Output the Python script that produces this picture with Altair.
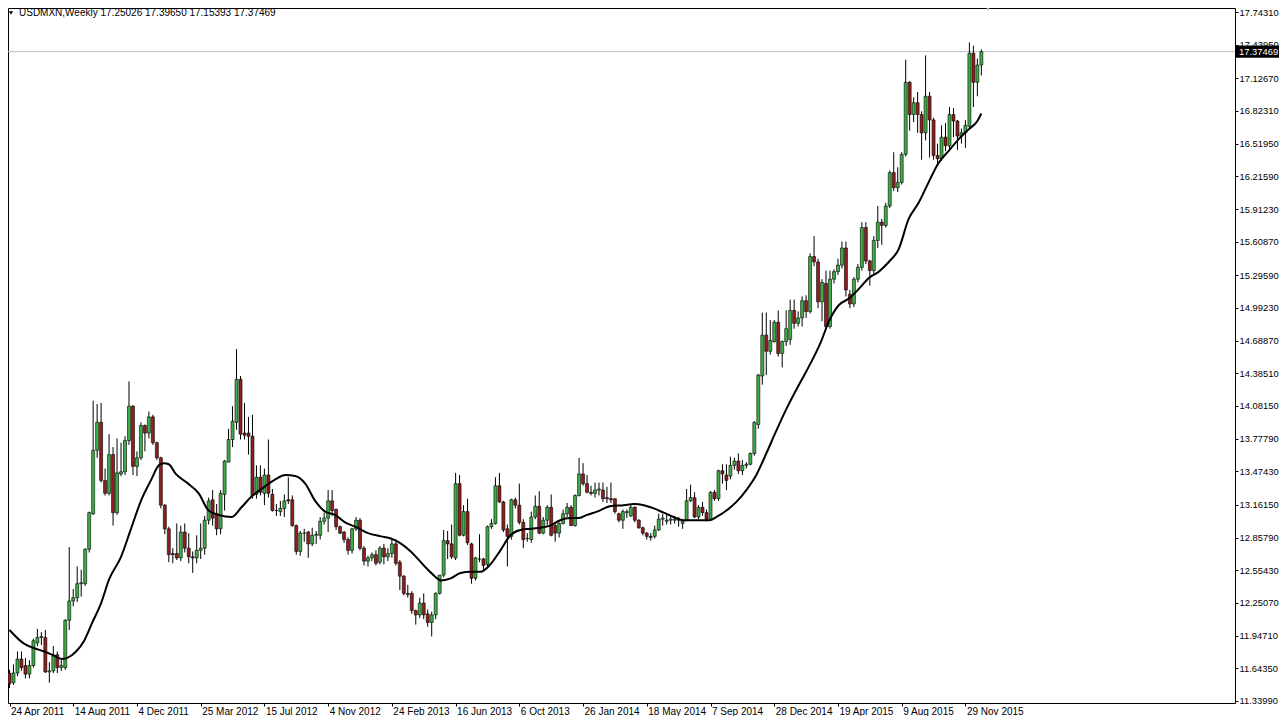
import altair as alt
import pandas as pd

# ---------------- data ----------------
symbol = "USDMXN,Weekly"

opens = [11.60, 11.51, 11.60, 11.73, 11.67, 11.59, 11.67, 11.88, 11.93, 11.93,
         11.61, 11.62, 11.77, 11.65, 11.65, 12.09, 12.27, 12.30, 12.43, 12.43,
         12.75, 13.08, 13.67, 13.93, 13.39, 13.27, 13.63, 13.09, 13.45, 13.47,
         13.76, 14.08, 13.52, 13.60, 13.90, 13.83, 13.98, 13.74, 13.60, 13.16,
         12.94, 12.71, 12.71, 12.67, 12.91, 12.76, 12.68, 12.67, 12.74, 12.76,
         13.02, 13.21, 13.08, 12.94, 13.26, 13.56, 13.77, 13.93, 14.33, 13.83,
         13.83, 13.80, 13.26, 13.42, 13.27, 13.44, 13.26, 13.11, 13.10, 13.13,
         13.21, 13.21, 12.97, 12.73, 12.90, 12.91, 12.80, 12.88, 12.88, 13.01,
         13.04, 13.20, 13.12, 12.96, 12.91, 12.84, 12.74, 12.94, 13.02, 12.76,
         12.64, 12.67, 12.70, 12.63, 12.76, 12.68, 12.71, 12.80, 12.63, 12.50,
         12.34, 12.34, 12.18, 12.14, 12.25, 12.15, 12.07, 12.14, 12.34, 12.51,
         12.83, 12.80, 12.67, 13.36, 12.88, 13.10, 12.80, 12.48, 12.66, 12.66,
         12.61, 12.96, 12.99, 13.34, 13.19, 12.94, 12.87, 13.21, 13.16, 13.00,
         12.85, 12.84, 13.05, 13.15, 12.90, 13.02, 13.14, 12.97, 12.90, 12.99,
         13.08, 13.14, 12.97, 13.25, 13.45, 13.36, 13.28, 13.27, 13.30, 13.30,
         13.23, 13.22, 13.22, 13.08, 13.02, 13.09, 13.06, 13.14, 13.02, 12.95,
         12.90, 12.87, 12.87, 12.93, 13.03, 13.01, 13.02, 13.02, 13.03, 12.99,
         13.02, 13.20, 13.23, 13.05, 13.14, 13.09, 13.03, 13.28, 13.22, 13.48,
         13.44, 13.43, 13.53, 13.57, 13.48, 13.53, 13.54, 13.64, 13.91, 14.36,
         14.74, 14.59, 14.68, 14.86, 14.57, 14.68, 14.70, 14.97, 14.85, 14.90,
         15.06, 14.96, 15.47, 15.42, 15.05, 15.22, 14.82, 15.26, 15.33, 15.39,
         15.55, 15.12, 15.03, 15.26, 15.37, 15.74, 15.43, 15.34, 15.62, 15.79,
         15.76, 15.94, 16.25, 16.11, 16.16, 16.42, 17.09, 16.79, 16.90, 16.79,
         16.62, 16.96, 16.74, 16.41, 16.38, 16.58, 16.50, 16.79, 16.73, 16.59,
         16.62, 16.68, 17.36, 17.09, 17.25026]

highs = [11.63, 11.68, 11.80, 11.80, 11.74, 11.72, 11.92, 12.01, 11.98, 12.00,
         11.70, 11.85, 11.80, 11.72, 12.10, 12.77, 12.38, 12.59, 12.56, 12.76,
         13.10, 14.13, 14.10, 14.11, 13.50, 13.82, 13.70, 13.78, 13.74, 13.80,
         14.31, 14.09, 13.66, 13.93, 13.91, 14.03, 14.00, 13.75, 13.61, 13.17,
         12.96, 12.76, 12.99, 12.97, 12.99, 12.90, 12.73, 12.88, 12.99, 13.06,
         13.23, 13.30, 13.17, 13.30, 13.58, 13.87, 14.08, 14.61, 14.36, 14.11,
         13.98, 14.00, 13.53, 13.53, 13.50, 13.77, 13.31, 13.17, 13.20, 13.26,
         13.42, 13.25, 12.98, 12.92, 12.94, 12.92, 12.95, 12.92, 13.05, 13.09,
         13.30, 13.30, 13.13, 12.97, 12.92, 12.86, 12.95, 13.05, 13.04, 12.78,
         12.69, 12.72, 12.74, 12.78, 12.80, 12.76, 12.85, 12.84, 12.65, 12.51,
         12.42, 12.36, 12.19, 12.30, 12.34, 12.19, 12.17, 12.35, 12.51, 12.93,
         12.92, 12.98, 13.46, 13.44, 13.16, 13.22, 12.81, 12.68, 12.89, 12.67,
         12.97, 13.03, 13.42, 13.46, 13.20, 12.98, 13.22, 13.23, 13.36, 13.03,
         12.90, 13.10, 13.25, 13.29, 13.05, 13.16, 13.26, 13.00, 13.00, 13.12,
         13.18, 13.16, 13.26, 13.60, 13.55, 13.44, 13.34, 13.37, 13.37, 13.37,
         13.33, 13.37, 13.22, 13.09, 13.12, 13.12, 13.16, 13.15, 13.03, 12.96,
         12.91, 12.90, 12.97, 13.08, 13.08, 13.08, 13.06, 13.06, 13.05, 13.02,
         13.31, 13.35, 13.28, 13.16, 13.19, 13.12, 13.29, 13.30, 13.49, 13.54,
         13.54, 13.61, 13.60, 13.64, 13.58, 13.56, 13.65, 13.94, 14.38, 14.95,
         14.95, 14.88, 14.88, 14.97, 14.69, 14.97, 15.07, 15.07, 14.96, 15.10,
         15.11, 15.50, 15.66, 15.45, 15.26, 15.34, 15.34, 15.35, 15.45, 15.61,
         15.61, 15.16, 15.28, 15.40, 15.79, 15.79, 15.44, 15.66, 15.94, 15.82,
         15.97, 16.27, 16.44, 16.30, 16.44, 17.30, 17.10, 16.95, 17.00, 16.82,
         17.34, 17.00, 16.76, 16.52, 16.69, 16.71, 16.86, 16.85, 16.74, 16.66,
         16.74, 17.46, 17.43, 17.31, 17.39650]

lows = [11.46, 11.49, 11.57, 11.62, 11.55, 11.55, 11.65, 11.85, 11.86, 11.60,
        11.51, 11.60, 11.60, 11.62, 11.63, 12.00, 12.22, 12.26, 12.31, 12.41,
        12.72, 13.07, 13.60, 13.37, 13.25, 13.25, 12.97, 13.07, 13.43, 13.44,
        13.72, 13.44, 13.43, 13.58, 13.66, 13.78, 13.72, 13.58, 13.13, 12.89,
        12.63, 12.62, 12.65, 12.64, 12.72, 12.62, 12.53, 12.62, 12.66, 12.70,
        12.98, 12.97, 12.88, 12.89, 13.11, 13.56, 13.70, 13.86, 13.77, 13.77,
        13.63, 13.22, 13.22, 13.25, 13.16, 13.23, 13.10, 13.06, 13.06, 13.05,
        13.17, 12.96, 12.70, 12.69, 12.82, 12.67, 12.78, 12.80, 12.84, 12.98,
        12.91, 13.06, 12.93, 12.89, 12.81, 12.70, 12.71, 12.92, 12.74, 12.60,
        12.59, 12.64, 12.60, 12.61, 12.61, 12.64, 12.67, 12.60, 12.37, 12.32,
        12.30, 12.15, 12.05, 12.11, 12.10, 12.03, 11.94, 12.10, 12.33, 12.49,
        12.66, 12.66, 12.65, 12.87, 12.87, 12.79, 12.43, 12.46, 12.63, 12.55,
        12.59, 12.94, 12.98, 13.18, 12.91, 12.59, 12.84, 13.13, 12.98, 12.76,
        12.82, 12.81, 13.03, 12.89, 12.89, 12.97, 12.87, 12.82, 12.86, 12.98,
        13.05, 12.97, 12.96, 13.24, 13.34, 13.27, 13.25, 13.23, 13.25, 13.19,
        13.18, 13.18, 13.08, 13.00, 12.94, 13.04, 13.05, 13.00, 12.94, 12.88,
        12.84, 12.83, 12.85, 12.92, 12.97, 12.98, 12.98, 12.99, 12.96, 12.94,
        13.01, 13.19, 13.04, 13.03, 13.06, 13.01, 13.02, 13.20, 13.20, 13.36,
        13.30, 13.40, 13.49, 13.45, 13.44, 13.50, 13.53, 13.62, 13.87, 14.28,
        14.37, 14.56, 14.67, 14.54, 14.44, 14.64, 14.65, 14.80, 14.82, 14.82,
        14.90, 14.94, 15.38, 14.99, 14.87, 14.79, 14.80, 15.22, 15.30, 15.36,
        15.10, 14.99, 15.00, 15.23, 15.34, 15.40, 15.20, 15.31, 15.55, 15.58,
        15.74, 15.92, 16.08, 16.07, 16.14, 16.40, 16.64, 16.72, 16.62, 16.37,
        16.55, 16.39, 16.37, 16.33, 16.36, 16.45, 16.46, 16.58, 16.46, 16.52,
        16.48, 16.65, 16.86, 16.96, 17.15393]

closes = [11.50, 11.60, 11.73, 11.65, 11.59, 11.67, 11.90, 11.93, 11.94, 11.61,
          11.62, 11.76, 11.65, 11.67, 12.09, 12.27, 12.30, 12.43, 12.44, 12.75,
          13.09, 13.67, 13.93, 13.39, 13.27, 13.63, 13.09, 13.46, 13.47, 13.76,
          14.08, 13.52, 13.60, 13.90, 13.83, 13.98, 13.74, 13.60, 13.16, 12.94,
          12.70, 12.70, 12.67, 12.91, 12.76, 12.68, 12.67, 12.74, 12.76, 13.02,
          13.20, 13.04, 12.94, 13.27, 13.57, 13.77, 13.94, 14.33, 13.82, 13.81,
          13.80, 13.25, 13.42, 13.28, 13.44, 13.27, 13.11, 13.11, 13.13, 13.20,
          13.20, 12.97, 12.73, 12.90, 12.90, 12.80, 12.88, 12.89, 13.01, 13.04,
          13.20, 13.11, 12.96, 12.90, 12.84, 12.74, 12.94, 13.02, 12.76, 12.64,
          12.67, 12.70, 12.62, 12.76, 12.68, 12.71, 12.80, 12.62, 12.50, 12.34,
          12.33, 12.18, 12.14, 12.25, 12.14, 12.07, 12.14, 12.34, 12.51, 12.83,
          12.80, 12.68, 13.36, 12.88, 13.10, 12.81, 12.48, 12.67, 12.66, 12.60,
          12.96, 12.99, 13.34, 13.19, 12.93, 12.87, 13.21, 13.16, 13.00, 12.84,
          12.85, 13.05, 13.15, 12.90, 13.02, 13.14, 12.88, 12.90, 12.99, 13.08,
          13.14, 12.97, 13.25, 13.45, 13.36, 13.28, 13.27, 13.30, 13.31, 13.22,
          13.22, 13.21, 13.10, 13.02, 13.10, 13.10, 13.14, 13.02, 12.95, 12.90,
          12.87, 12.86, 12.93, 13.03, 13.04, 13.02, 13.03, 13.03, 13.02, 13.01,
          13.20, 13.23, 13.05, 13.14, 13.09, 13.03, 13.28, 13.22, 13.48, 13.45,
          13.39, 13.53, 13.57, 13.48, 13.53, 13.54, 13.64, 13.93, 14.37, 14.74,
          14.59, 14.69, 14.86, 14.57, 14.68, 14.80, 14.97, 14.85, 14.90, 15.06,
          14.96, 15.47, 15.42, 15.05, 15.23, 14.82, 15.26, 15.33, 15.39, 15.55,
          15.16, 15.03, 15.26, 15.37, 15.74, 15.43, 15.34, 15.62, 15.79, 15.76,
          15.94, 16.25, 16.11, 16.16, 16.42, 17.09, 16.79, 16.90, 16.79, 16.62,
          16.96, 16.74, 16.41, 16.38, 16.58, 16.50, 16.79, 16.73, 16.59, 16.62,
          16.69, 17.36, 17.09, 17.25, 17.37469]

# moving average line, read at points along the curve (week index, price)
ma_week = [0, 3.75, 6.25, 8.75, 11.25, 13.3, 14.5, 16.7, 18.75, 20.8, 23, 25, 28,
           30.5, 33, 35.5, 37.5, 38.75, 40, 41.75, 44.5, 47.5, 50, 52.5, 55.75,
           58.25, 60.75, 63.25, 66.75, 69.25, 71.75, 74.25, 76.75, 79.25, 81.75,
           84.25, 86.75, 90, 93.25, 95.75, 98, 100.75, 104.25, 106.75, 108.25,
           110.75, 113.25, 115.75, 118.25, 120.75, 123.25, 125.75, 128.25, 130.75,
           133.25, 135.75, 138.25, 140.75, 143, 145, 147.5, 150.75, 154.25, 156.75,
           159.25, 161.75, 164.25, 166.75, 169.25, 172.5, 175.75, 177.5, 180, 182.5,
           185, 187.5, 190, 192.5, 195, 197.5, 200, 203.75, 205.75, 208.25, 210.75,
           213.25, 215.75, 218.25, 220.75, 223.25, 225.75, 228.25, 230.75, 233.25,
           235.75, 238.25, 240.75, 243, 244]
ma_value = [12.00, 11.87, 11.83, 11.80, 11.76, 11.73, 11.74, 11.80, 11.90, 12.07,
            12.25, 12.47, 12.68, 12.94, 13.20, 13.39, 13.53, 13.55, 13.54, 13.45,
            13.37, 13.27, 13.11, 13.07, 13.05, 13.14, 13.24, 13.31, 13.40, 13.44,
            13.43, 13.36, 13.20, 13.10, 13.07, 13.00, 12.96, 12.90, 12.87, 12.85,
            12.81, 12.73, 12.59, 12.50, 12.46, 12.48, 12.53, 12.54, 12.54, 12.61,
            12.74, 12.88, 12.93, 12.94, 12.95, 12.97, 13.02, 13.04, 13.04, 13.07,
            13.10, 13.15, 13.16, 13.17, 13.16, 13.13, 13.09, 13.05, 13.02, 13.02,
            13.02, 13.05, 13.11, 13.19, 13.30, 13.44, 13.64, 13.85, 14.05, 14.23,
            14.40, 14.68, 14.87, 15.02, 15.08, 15.17, 15.27, 15.33, 15.42, 15.54,
            15.82, 15.97, 16.16, 16.34, 16.45, 16.56, 16.65, 16.73, 16.80]

tick_weeks = [0, 16, 32, 48, 64, 80, 96, 112, 128, 144, 160, 176, 192, 208, 224, 240]
tick_labels = ["24 Apr 2011", "14 Aug 2011", "4 Dec 2011", "25 Mar 2012", "15 Jul 2012",
               "4 Nov 2012", "24 Feb 2013", "16 Jun 2013", "6 Oct 2013", "26 Jan 2014",
               "18 May 2014", "7 Sep 2014", "28 Dec 2014", "19 Apr 2015", "9 Aug 2015",
               "29 Nov 2015"]
price_ticks = [17.74310, 17.43950, 17.12670, 16.82310, 16.51950, 16.21590, 15.91230,
               15.60870, 15.29590, 14.99230, 14.68870, 14.38510, 14.08150, 13.77790,
               13.47430, 13.16150, 12.85790, 12.55430, 12.25070, 11.94710, 11.64350,
               11.33990]

# ---------------- tables ----------------
n = len(closes)
df = pd.DataFrame({"week": list(range(n)), "open": opens, "high": highs,
                   "low": lows, "close": closes})
df["body_lo"] = df[["open", "close"]].min(axis=1)
df["body_hi"] = df[["open", "close"]].max(axis=1)
df["dir"] = ["up" if c >= o else "down" for o, c in zip(opens, closes)]

ma_df = pd.DataFrame({"week": ma_week, "ma": ma_value})
last = pd.DataFrame({"price": [closes[-1]],
                     "label": [f"{closes[-1]:.5f}"],
                     "title": [f"{symbol}  {opens[-1]:.5f} {highs[-1]:.5f} {lows[-1]:.5f} {closes[-1]:.5f}"]})

FONT = "Liberation Sans"
W, H = 1227, 695
PX_PER_WEEK = 3.983
x0 = -1.5 / PX_PER_WEEK
xscale = alt.Scale(domain=[x0, x0 + W / PX_PER_WEEK], nice=False, zero=False, padding=0)
yscale = alt.Scale(domain=[11.3213, 17.7803], nice=False, zero=False, padding=0)

label_array = "[" + ",".join(f"'{t}'" for t in tick_labels) + "]"
x_axis = alt.Axis(values=tick_weeks, labelExpr=f"{label_array}[round(datum.value/16)]",
                  grid=False, domain=False, ticks=True, tickColor="black", tickSize=3,
                  labelAlign="left", labelBaseline="top", labelPadding=0, labelOffset=1,
                  labelFont=FONT, labelFontSize=10, labelColor="black",
                  labelFlush=False, labelOverlap=False, title=None)
y_axis = alt.Axis(values=price_ticks, format=".5f", orient="right", grid=False,
                  domain=False, ticks=True, tickColor="black", tickSize=3,
                  labelPadding=1, labelFont=FONT, labelFontSize=9.4, labelColor="black",
                  labelFlush=False, labelOverlap=False, labelBaseline="middle", title=None)

X = alt.X("week:Q", scale=xscale, axis=x_axis)

def Y(field):
    return alt.Y(field, scale=yscale, axis=y_axis)

base = alt.Chart(df)

wicks = base.mark_rule(color="black", strokeWidth=1).encode(
    x=X, y=Y("low:Q"), y2="high:Q")

bodies = base.mark_bar(size=3, stroke="black", strokeWidth=0.6).encode(
    x=X, y=Y("body_lo:Q"), y2="body_hi:Q",
    color=alt.Color("dir:N", scale=alt.Scale(domain=["up", "down"],
                                             range=["#3DAE46", "#8E1F1F"]), legend=None))

ma_line = alt.Chart(ma_df).mark_line(color="black", strokeWidth=2, interpolate="monotone").encode(
    x=X, y=Y("ma:Q"))

price_line = alt.Chart(last).mark_rule(color="#BDBDBD", strokeWidth=1).encode(
    y=Y("price:Q"))

price_box = alt.Chart(last).transform_calculate(
    lo="datum.price - 0.056", hi="datum.price + 0.056").mark_rect(color="black").encode(
    x=alt.value(W + 1), x2=alt.value(W + 46),
    y=Y("lo:Q"), y2="hi:Q")

price_text = alt.Chart(last).mark_text(align="left", baseline="middle", font=FONT,
                                       fontSize=9.4, color="white").encode(
    x=alt.value(W + 4), y=Y("price:Q"), text="label:N")

title_text = alt.Chart(last).mark_text(align="left", baseline="middle", font=FONT,
                                       fontSize=10, color="black").encode(
    x=alt.value(11), y=alt.value(5), text="title:N")

title_tri = alt.Chart(last).mark_point(shape="triangle-down", filled=True, color="black",
                                       size=18, opacity=1).encode(
    x=alt.value(3), y=alt.value(5))

shift_tri = alt.Chart(last).mark_point(shape="triangle-down", filled=True, color="#A8A8A8",
                                       size=40, opacity=1).encode(
    x=alt.value(980), y=alt.value(0))

chart = alt.layer(price_line, wicks, bodies, ma_line, price_box, price_text,
                  title_text, title_tri, shift_tri).properties(
    width=W, height=H,
    autosize=alt.AutoSizeParams(type="none"),
    padding={"left": 0, "top": 0, "right": 44, "bottom": 13},
    background="white",
).configure_view(stroke="black", strokeWidth=1)

chart.save("out.html", embed_options={"renderer": "svg", "actions": False})
